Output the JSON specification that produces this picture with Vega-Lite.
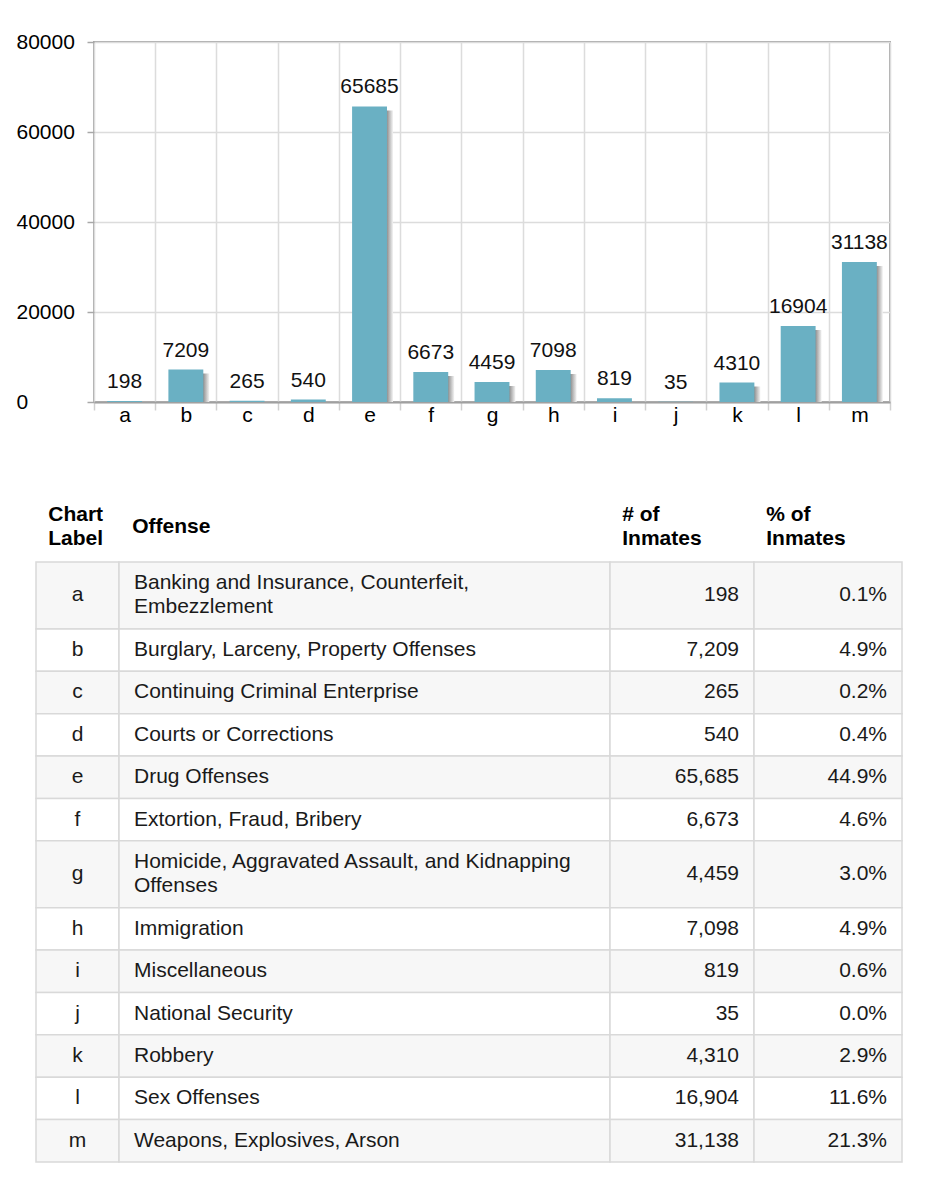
{
  "$schema": "https://vega.github.io/schema/vega-lite/v6.json",
  "background": "#ffffff",
  "padding": {"left": 15, "top": 30, "right": 0, "bottom": 0},
  "config": {
    "font": "Liberation Sans",
    "view": {"stroke": null},
    "text": {"font": "Liberation Sans"}
  },
  "datasets": {
    "offenses": [
      {"label": "a", "offense": ["Banking and Insurance, Counterfeit,", "Embezzlement"], "count": 198, "pct": 0.001},
      {"label": "b", "offense": ["Burglary, Larceny, Property Offenses"], "count": 7209, "pct": 0.049},
      {"label": "c", "offense": ["Continuing Criminal Enterprise"], "count": 265, "pct": 0.002},
      {"label": "d", "offense": ["Courts or Corrections"], "count": 540, "pct": 0.004},
      {"label": "e", "offense": ["Drug Offenses"], "count": 65685, "pct": 0.449},
      {"label": "f", "offense": ["Extortion, Fraud, Bribery"], "count": 6673, "pct": 0.046},
      {"label": "g", "offense": ["Homicide, Aggravated Assault, and Kidnapping", "Offenses"], "count": 4459, "pct": 0.030},
      {"label": "h", "offense": ["Immigration"], "count": 7098, "pct": 0.049},
      {"label": "i", "offense": ["Miscellaneous"], "count": 819, "pct": 0.006},
      {"label": "j", "offense": ["National Security"], "count": 35, "pct": 0.000},
      {"label": "k", "offense": ["Robbery"], "count": 4310, "pct": 0.029},
      {"label": "l", "offense": ["Sex Offenses"], "count": 16904, "pct": 0.116},
      {"label": "m", "offense": ["Weapons, Explosives, Arson"], "count": 31138, "pct": 0.213}
    ]
  },
  "concat": [
    {
      "bounds": "flush",
      "spacing": 0,
      "hconcat": [
        {
          "width": 58,
          "height": 360,
          "data": {"values": [{}]},
          "mark": {"type": "rule", "opacity": 0},
          "encoding": {}
        },
        {
          "width": 796,
          "height": 360,
          "view": {"stroke": "#a8a8a8", "strokeWidth": 2},
          "data": {"name": "offenses"},
          "encoding": {
            "x": {
              "field": "label", "type": "nominal", "sort": null,
              "scale": {"paddingInner": 0, "paddingOuter": 0},
              "axis": {
                "title": null, "labelAngle": 0, "labelFontSize": 21, "labelColor": "#000000",
                "labelPadding": -6, "tickSize": 8, "tickColor": "#d0d0d0", "tickWidth": 1.5,
                "domainColor": "#a0a0a0", "domainWidth": 2, "grid": true, "gridColor": "#dcdcdc",
                "gridWidth": 1.5, "tickBand": "extent"
              }
            },
            "y": {
              "field": "count", "type": "quantitative",
              "scale": {"domain": [0, 80000], "nice": false},
              "axis": {
                "title": null, "values": [0, 20000, 40000, 60000, 80000], "format": "d",
                "grid": true, "gridColor": "#dcdcdc", "gridWidth": 1.5, "domain": false,
                "tickSize": 7, "tickColor": "#a8a8a8", "tickWidth": 1.5,
                "labelAlign": "left", "labelPadding": 71, "labelFontSize": 21, "labelColor": "#000000"
              }
            }
          },
          "layer": [
            {
              "mark": {
                "type": "bar", "width": {"band": 0.57}, "xOffset": 6, "yOffset": 4, "clip": true,
                "fill": {
                  "gradient": "linear", "x1": 0, "y1": 0, "x2": 1, "y2": 0,
                  "stops": [
                    {"offset": 0, "color": "#808080"},
                    {"offset": 0.82, "color": "#8c8c8c"},
                    {"offset": 1, "color": "#f4f4f4"}
                  ]
                }
              }
            },
            {
              "mark": {"type": "bar", "width": {"band": 0.57}, "fill": "#6ab0c3"}
            },
            {
              "mark": {"type": "text", "fontSize": 21, "baseline": "alphabetic", "dy": -13, "color": "#111111"},
              "encoding": {"text": {"field": "count", "type": "quantitative", "format": "d"}}
            }
          ]
        }
      ]
    },
    {
      "data": {"name": "offenses"},
      "transform": [
        {"calculate": "length(datum.offense) + 0.73", "as": "h"},
        {"window": [{"op": "sum", "field": "h", "as": "y1"}, {"op": "row_number", "as": "rn"}], "frame": [null, 0]},
        {"calculate": "datum.y1 - datum.h", "as": "y0"},
        {"calculate": "datum.y1 - datum.h / 2", "as": "ym"},
        {"calculate": "datum.ym - (length(datum.offense) - 1) * 0.49", "as": "ty"}
      ],
      "bounds": "flush",
      "spacing": 0,
      "hconcat": [
        {
          "width": 83, "height": 600,
          "title": {"text": ["Chart", "Label"], "anchor": "start", "dx": 13, "fontSize": 21, "fontWeight": "bold", "lineHeight": 24, "offset": 12, "color": "#000000", "font": "Liberation Sans"},
          "layer": [
            {
              "mark": {"type": "rect", "stroke": "#d9d9d9", "strokeWidth": 1.5},
              "encoding": {
                "y": {"field": "y0", "type": "quantitative", "scale": {"domain": [0, 24.49], "reverse": true, "nice": false, "zero": false},
                  "axis": {"title": null, "domain": false, "labels": false, "grid": false, "ticks": true, "tickSize": 20, "tickColor": "#ffffff", "values": [0]}},
                "y2": {"field": "y1"},
                "fill": {"condition": {"test": "datum.rn % 2 == 1", "value": "#f7f7f7"}, "value": "#ffffff"}
              }
            },
            {
              "mark": {"type": "text", "fontSize": 21, "baseline": "middle", "align": "center", "color": "#1a1a1a"},
              "encoding": {
                "y": {"field": "ym", "type": "quantitative", "scale": {"domain": [0, 24.49], "reverse": true, "nice": false, "zero": false}, "axis": null},
                "text": {"field": "label", "type": "nominal"}
              }
            }
          ]
        },
        {
          "width": 491, "height": 600,
          "title": {"text": "Offense", "anchor": "start", "dx": 14, "dy": -12, "fontSize": 21, "fontWeight": "bold", "lineHeight": 24, "offset": 12, "color": "#000000", "font": "Liberation Sans"},
          "layer": [
            {
              "mark": {"type": "rect", "stroke": "#d9d9d9", "strokeWidth": 1.5},
              "encoding": {
                "y": {"field": "y0", "type": "quantitative", "scale": {"domain": [0, 24.49], "reverse": true, "nice": false, "zero": false}, "axis": null},
                "y2": {"field": "y1"},
                "fill": {"condition": {"test": "datum.rn % 2 == 1", "value": "#f7f7f7"}, "value": "#ffffff"}
              }
            },
            {
              "mark": {"type": "text", "fontSize": 21, "baseline": "middle", "align": "left", "dx": 15, "lineHeight": 24, "color": "#1a1a1a"},
              "encoding": {
                "x": {"value": 0},
                "y": {"field": "ty", "type": "quantitative", "scale": {"domain": [0, 24.49], "reverse": true, "nice": false, "zero": false}, "axis": null},
                "text": {"field": "offense", "type": "nominal"}
              }
            }
          ]
        },
        {
          "width": 144, "height": 600,
          "title": {"text": ["# of", "Inmates"], "anchor": "start", "dx": 13, "fontSize": 21, "fontWeight": "bold", "lineHeight": 24, "offset": 12, "color": "#000000", "font": "Liberation Sans"},
          "layer": [
            {
              "mark": {"type": "rect", "stroke": "#d9d9d9", "strokeWidth": 1.5},
              "encoding": {
                "y": {"field": "y0", "type": "quantitative", "scale": {"domain": [0, 24.49], "reverse": true, "nice": false, "zero": false}, "axis": null},
                "y2": {"field": "y1"},
                "fill": {"condition": {"test": "datum.rn % 2 == 1", "value": "#f7f7f7"}, "value": "#ffffff"}
              }
            },
            {
              "mark": {"type": "text", "fontSize": 21, "baseline": "middle", "align": "right", "dx": -15, "color": "#1a1a1a"},
              "encoding": {
                "x": {"value": "width"},
                "y": {"field": "ym", "type": "quantitative", "scale": {"domain": [0, 24.49], "reverse": true, "nice": false, "zero": false}, "axis": null},
                "text": {"field": "count", "type": "quantitative", "format": ","}
              }
            }
          ]
        },
        {
          "width": 148, "height": 600,
          "title": {"text": ["% of", "Inmates"], "anchor": "start", "dx": 13, "fontSize": 21, "fontWeight": "bold", "lineHeight": 24, "offset": 12, "color": "#000000", "font": "Liberation Sans"},
          "layer": [
            {
              "mark": {"type": "rect", "stroke": "#d9d9d9", "strokeWidth": 1.5},
              "encoding": {
                "y": {"field": "y0", "type": "quantitative", "scale": {"domain": [0, 24.49], "reverse": true, "nice": false, "zero": false}, "axis": null},
                "y2": {"field": "y1"},
                "fill": {"condition": {"test": "datum.rn % 2 == 1", "value": "#f7f7f7"}, "value": "#ffffff"}
              }
            },
            {
              "mark": {"type": "text", "fontSize": 21, "baseline": "middle", "align": "right", "dx": -15, "color": "#1a1a1a"},
              "encoding": {
                "x": {"value": "width"},
                "y": {"field": "ym", "type": "quantitative", "scale": {"domain": [0, 24.49], "reverse": true, "nice": false, "zero": false}, "axis": null},
                "text": {"field": "pct", "type": "quantitative", "format": ".1%"}
              }
            }
          ]
        }
      ]
    }
  ],
  "columns": 1,
  "align": "none",
  "spacing": 78
}
